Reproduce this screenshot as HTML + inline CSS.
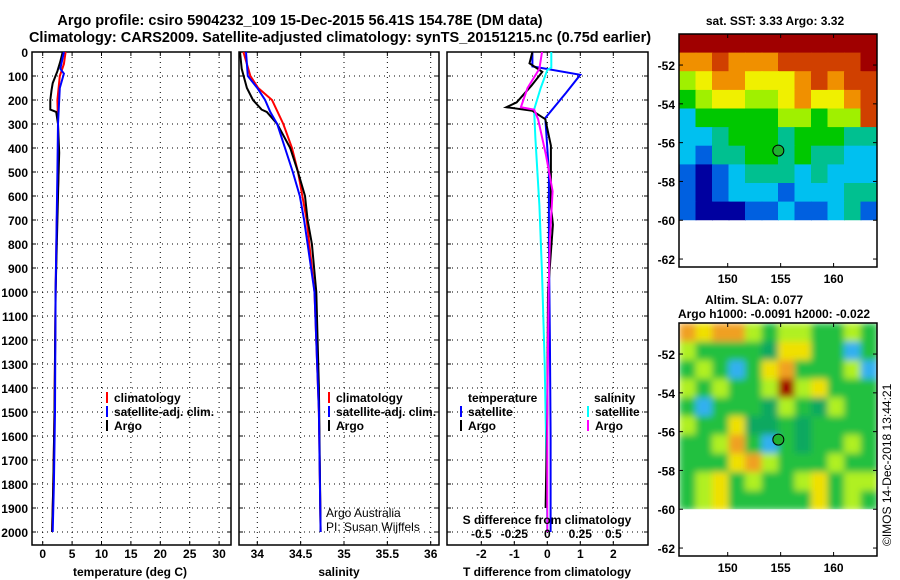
<!DOCTYPE html>
<html><head><meta charset="utf-8"><style>
html,body{margin:0;padding:0;background:#fff}
svg{display:block}
text{font-family:"Liberation Sans",Arial,sans-serif;font-weight:bold;font-size:12px;fill:#000}
</style></head><body>
<svg id="fig" width="900" height="580" viewBox="0 0 900 580" xmlns="http://www.w3.org/2000/svg">
<text x="300" y="25" text-anchor="middle" style="font-size:14.5px">Argo profile: csiro 5904232_109 15-Dec-2015 56.41S 154.78E (DM data)</text>
<text x="340" y="42" text-anchor="middle" style="font-size:14.5px">Climatology: CARS2009. Satellite-adjusted climatology: synTS_20151215.nc (0.75d earlier)</text>
<g id="g1"></g>
<g id="g2"></g>
<g id="g3"></g>
<g id="m1"></g>
<g id="m2"></g>
<text transform="translate(891,546) rotate(-90)" style="font-weight:normal;font-size:12px">©IMOS 14-Dec-2018 13:44:21</text>
</svg>
<script>
// ---- data ----
const depthTicks=[0,100,200,300,400,500,600,700,800,900,1000,1100,1200,1300,1400,1500,1600,1700,1800,1900,2000];
const tempTicks=[0,5,10,15,20,25,30];
const salTicks=[34,34.5,35,35.5,36];
const salTickLabels=["34","34.5","35","35.5","36"];
const tdTicks=[-2,-1,0,1,2];
const sdTicks=[-0.5,-0.25,0,0.25,0.5];
const sdTickLabels=["-0.5","-0.25","0","0.25","0.5"];

const tArgoDepth=[0,40,80,130,160,200,240,250,300,420,500,700,1000,1500,1800,2000];
const tArgoVal=[3.4,3.0,2.5,1.7,1.5,1.3,1.3,2.3,2.6,2.8,2.7,2.5,2.2,2.0,1.8,1.6];
const tClimDepth=[0,50,100,200,300,500,700,1000,1500,1800,2000];
const tClimVal=[3.9,3.6,2.9,2.5,2.6,2.7,2.4,2.2,2.0,1.8,1.6];
const tSatDepth=[0,70,90,150,300,500,1000,1500,1800,2000];
const tSatVal=[3.6,3.0,3.6,2.9,2.6,2.5,2.2,2.1,1.9,1.7];

const sArgoDepth=[0,70,150,200,240,250,300,400,500,600,700,800,1000,1400,2000];
const sArgoVal=[33.80,33.82,33.88,33.95,34.05,34.11,34.23,34.38,34.47,34.55,34.58,34.63,34.68,34.71,34.73];
const sClimDepth=[0,100,150,200,300,400,500,700,1000,1500,2000];
const sClimVal=[33.84,33.92,34.01,34.17,34.30,34.40,34.47,34.57,34.66,34.71,34.73];
const sSatDepth=[0,100,150,200,250,300,400,500,600,700,800,1000,1500,2000];
const sSatVal=[33.87,33.89,34.0,34.09,34.15,34.23,34.32,34.41,34.49,34.54,34.58,34.66,34.71,34.73];

const dTSatDepth=[0,60,95,170,275,500,800,1200,1600,2000];
const dTSatVal=[-0.45,-0.45,1.0,0.57,-0.06,0.05,0.05,0.08,0.1,0.1];
const dTArgoDepth=[0,47,83,140,210,230,245,280,390,640,720,1000,1500,1900];
const dTArgoVal=[-0.45,-0.54,-0.15,-0.48,-0.93,-1.24,-0.45,-0.06,0.11,0.11,0.17,0.02,0.0,-0.05];
const dSArgoDepth=[0,70,150,230,240,280,430,580,780,1000,1500,2000];
const dSArgoVal=[-0.04,-0.06,-0.15,-0.2,-0.1,-0.07,-0.01,0.04,0.02,0.01,0.0,0.0];
const dSSatDepth=[0,65,75,150,240,360,640,920,1300,1600,2000];
const dSSatVal=[0.03,0.03,0.0,-0.05,-0.1,-0.09,-0.06,-0.04,-0.02,-0.01,0.0];

const sstRows=["999999999999","778777888889","567766678788","456655676678","244444554558","223444344433","213344343322","101233323222","101222122233","100011211231"];
const slaRows=["767754554454","544443664424","454246744452","545445956444","424443543544","544633434444","445742434454","444675444544","456454456455","456444446454"];
const mapLons=[145.4,164.1];
const mapLats=[-50.4,-60];
const floatLon=154.78, floatLat=-56.41;
const mapLatTicks=[-52,-54,-56,-58,-60,-62];
const mapLonTicks=[150,155,160];

// ---- helpers ----
const NS="http://www.w3.org/2000/svg";
function mk(tag,attrs,parent){const e=document.createElementNS(NS,tag);for(const k in attrs)e.setAttribute(k,attrs[k]);parent.appendChild(e);return e;}
function txt(s,x,y,anchor,parent,style){const e=mk('text',{x:x,y:y,'text-anchor':anchor||'start'},parent);if(style)e.setAttribute('style',style);e.textContent=s;return e;}
const Y0=52, DY=0.24, BOT=545;
const yD=d=>Y0+d*DY;

function panel(g,x0,x1,xf,gridVals){
  for(const v of gridVals){const x=xf(v);
    const l=mk('line',{x1:x,x2:x,y1:Y0,y2:BOT,stroke:'#000','stroke-width':1,'stroke-dasharray':'1,4'},g);
    
    mk('line',{x1:x,x2:x,y1:BOT,y2:BOT-4,stroke:'#000'},g);mk('line',{x1:x,x2:x,y1:Y0,y2:Y0+4,stroke:'#000'},g);}
  for(const d of depthTicks){const y=yD(d);
    const l=mk('line',{x1:x0,x2:x1,y1:y,y2:y,stroke:'#000','stroke-width':1,'stroke-dasharray':'1,4'},g);
    
    mk('line',{x1:x0,x2:x0+4,y1:y,y2:y,stroke:'#000'},g);mk('line',{x1:x1,x2:x1-4,y1:y,y2:y,stroke:'#000'},g);}
  const r=mk('rect',{x:x0,y:Y0,width:x1-x0,height:BOT-Y0,fill:'none',stroke:'#000','stroke-width':1.5},g);
  
}
function series(g,depths,vals,xf,color,name,w){
  const pts=depths.map((d,i)=>xf(vals[i]).toFixed(1)+','+yD(d).toFixed(1)).join(' ');
  const p=mk('polyline',{points:pts,fill:'none',stroke:color,'stroke-width':w||2},g);
  
  
}
function legend(g,x,y,color,label,name){
  mk('line',{x1:x,x2:x,y1:y-10,y2:y+1,stroke:color,'stroke-width':2},g);
  const t=txt(label,x+7,y,'start',g);
  
  
}

// ---- panel 1: temperature ----
const g1=document.getElementById('g1');
const xT=v=>42.7+v*5.88;
panel(g1,32,231,xT,tempTicks);
for(const d of depthTicks){const t=txt(String(d),28,yD(d)+5,'end',g1);
  }
for(const v of tempTicks){const t=txt(String(v),xT(v),558,'middle',g1);
  }
{const t=txt('temperature (deg C)',130,576,'middle',g1);}
series(g1,tClimDepth,tClimVal,xT,'#f00','temperature-climatology-line');
series(g1,tArgoDepth,tArgoVal,xT,'#000','temperature-argo-line');
series(g1,tSatDepth,tSatVal,xT,'#00f','temperature-satellite-line');
legend(g1,107,402,'#f00','climatology','legend-climatology');
legend(g1,107,416,'#00f','satellite-adj. clim.','legend-satellite-adj');
legend(g1,107,430,'#000','Argo','legend-argo');

// ---- panel 2: salinity ----
const g2=document.getElementById('g2');
const xS=v=>257.3+(v-34)*86.7;
panel(g2,239,439,xS,salTicks);
salTicks.forEach((v,i)=>{const t=txt(salTickLabels[i],xS(v),558,'middle',g2);
  });
{const t=txt('salinity',339,576,'middle',g2);}
series(g2,sClimDepth,sClimVal,xS,'#f00','salinity-climatology-line');
series(g2,sArgoDepth,sArgoVal,xS,'#000','salinity-argo-line');
series(g2,sSatDepth,sSatVal,xS,'#00f','salinity-satellite-line');
legend(g2,329,402,'#f00','climatology','legend-climatology');
legend(g2,329,416,'#00f','satellite-adj. clim.','legend-satellite-adj');
legend(g2,329,430,'#000','Argo','legend-argo');
{const t=txt('Argo Australia',326,517,'start',g2,'font-weight:normal');
 const t2=txt('PI: Susan Wijffels',326,531,'start',g2,'font-weight:normal');}

// ---- panel 3: differences ----
const g3=document.getElementById('g3');
const xD=v=>547.3+v*33;
const xDS=v=>547.3+v*132;
panel(g3,447,648,xD,tdTicks);
for(const v of tdTicks){const t=txt(String(v),xD(v),558,'middle',g3);
  }
{const t=txt('T difference from climatology',547,576,'middle',g3);}
series(g3,dTSatDepth,dTSatVal,xD,'#00f','t-diff-satellite-line');
series(g3,dSSatDepth,dSSatVal,xDS,'#0ff','s-diff-satellite-line');
series(g3,dTArgoDepth,dTArgoVal,xD,'#000','t-diff-argo-line');
series(g3,dSArgoDepth,dSArgoVal,xDS,'#f0f','s-diff-argo-line');
sdTicks.forEach((v,i)=>{const t=txt(sdTickLabels[i],xDS(v),538,'middle',g3);
  });
{const t=txt('S difference from climatology',547,524,'middle',g3);}
{const t=txt('temperature',468,402,'start',g3);}
legend(g3,461,416,'#00f','satellite','legend-t-satellite');
legend(g3,461,430,'#000','Argo','legend-t-argo');
{const t=txt('salinity',594,402,'start',g3);}
legend(g3,588,416,'#0ff','satellite','legend-s-satellite');
legend(g3,588,430,'#f0f','Argo','legend-s-argo');

// ---- maps ----
function map(g,top,rows,palette,blur){
  const X0=679,X1=877,H=233,BOTM=top+H;
  const lx=v=>X0+(v-mapLons[0])/(mapLons[1]-mapLons[0])*(X1-X0);
  const ly=v=>top+(v-(-50.4))/(-1)*19.4;
  const nr=rows.length,nc=rows[0].length;
  const cw=(X1-X0)/nc, ch=(ly(mapLats[1])-top)/nr;
  const cid='clip'+top;
  const cp=mk('clipPath',{id:cid},g);mk('rect',{x:X0,y:top,width:X1-X0,height:ly(mapLats[1])-top},cp);
  const cg=mk('g',{'clip-path':'url(#'+cid+')'},g);
  if(blur){const f=mk('filter',{id:'blur'+top,x:'-10%',y:'-10%',width:'120%',height:'120%'},g);mk('feGaussianBlur',{stdDeviation:3.5},f);}
  const hg=mk('g',blur?{filter:'url(#blur'+top+')'}:{},cg);
  rows.forEach((row,r)=>{for(let c=0;c<nc;c++){
    const cell=mk('rect',{x:(X0+c*cw).toFixed(1),y:(top+r*ch).toFixed(1),width:(cw+1).toFixed(1),height:(ch+1).toFixed(1),fill:palette[+row[c]]},hg);
    
    }});
  const fr=mk('rect',{x:X0,y:top,width:X1-X0,height:H,fill:'none',stroke:'#000','stroke-width':1.5},g);
  
  for(const v of mapLatTicks){const y=ly(v);
    mk('line',{x1:X1,x2:X1-4,y1:y,y2:y,stroke:'#000'},g);mk('line',{x1:X0,x2:X0+4,y1:y,y2:y,stroke:'#000'},g);
    const t=txt(String(v),675,y+5,'end',g);}
  for(const v of mapLonTicks){const x=lx(v);
    mk('line',{x1:x,x2:x,y1:top,y2:top+4,stroke:'#000'},g);mk('line',{x1:x,x2:x,y1:BOTM,y2:BOTM-4,stroke:'#000'},g);
    const t=txt(String(v),x,BOTM+16,'middle',g);}
  const c=mk('circle',{cx:lx(floatLon),cy:ly(floatLat),r:5.5,fill:'#20b030',stroke:'#000','stroke-width':1},g);
  
}
const sstPal=['#0000a0','#0060e0','#00c0f0','#00c090','#00c800','#a0f000','#f0f000','#f09000','#d04000','#a00000'];
const slaPal=['#0000a0','#0060e0','#30b0f0','#10a860','#20c040','#b0f020','#f0e000','#f0a020','#d03000','#a00000'];
const m1=document.getElementById('m1');
map(m1,34,sstRows,sstPal,false);
{const t=txt('sat. SST: 3.33 Argo: 3.32',775,25,'middle',m1);}
const m2=document.getElementById('m2');
map(m2,323,slaRows,slaPal,true);
{const t=txt('Altim. SLA: 0.077',754,304,'middle',m2);
 const t2=txt('Argo h1000: -0.0091 h2000: -0.022',774,318,'middle',m2);}
</script>
</body></html>
